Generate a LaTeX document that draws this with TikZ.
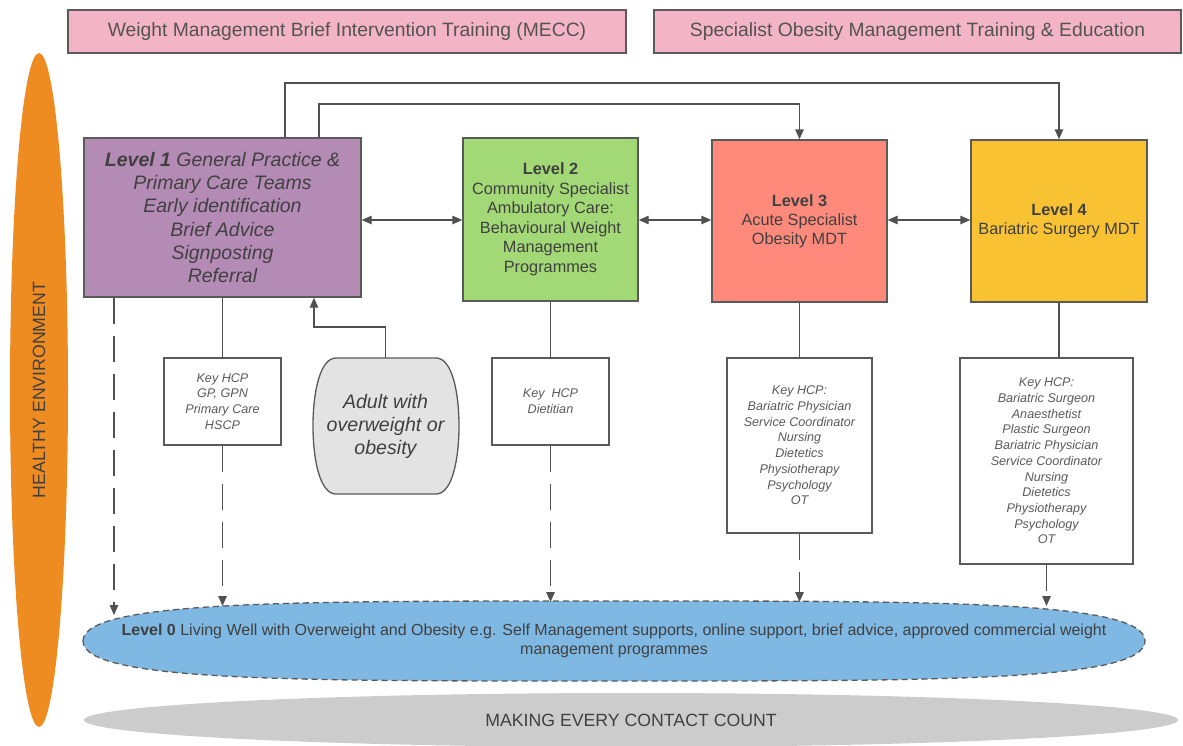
\documentclass[tikz,border=0pt]{standalone}
\usepackage{fontspec}
\setmainfont{Liberation Sans}
\usetikzlibrary{arrows.meta,shapes.geometric}
\definecolor{pinkc}{HTML}{F4B4C8}
\definecolor{orangec}{HTML}{EE8C22}
\definecolor{purplec}{HTML}{B48BB5}
\definecolor{greenc}{HTML}{A2D876}
\definecolor{salmonc}{HTML}{FF8A7B}
\definecolor{yellowc}{HTML}{F9C233}
\definecolor{bluec}{HTML}{7FB8E2}
\definecolor{grayc}{HTML}{CCCCCC}
\definecolor{adultc}{HTML}{E3E3E3}
\definecolor{txtc}{HTML}{404040}
\definecolor{keytxt}{HTML}{5A5A5A}
\definecolor{bordc}{HTML}{5A5A5A}
\definecolor{linec}{HTML}{505050}
\begin{document}
\begin{tikzpicture}[x=1pt,y=-1pt,
  head/.style={draw=bordc, fill=pinkc, line width=1.3pt, text=txtc!90, font=\fontsize{19.3}{22}\selectfont},
  lvl/.style={draw=bordc, line width=1.4pt, align=center, text=txtc, inner sep=2pt},
  keybox/.style={draw=bordc, fill=white, line width=1.3pt, align=center, text=keytxt, font=\fontsize{12.6}{15.7}\selectfont\itshape},
  conn/.style={draw=linec, line width=1.4pt},
  arr/.style={conn, -{Triangle[width=8.5pt,length=10pt]}},
  dbl/.style={conn, {Triangle[width=8.5pt,length=10pt]}-{Triangle[width=8.5pt,length=10pt]}},
  dsh/.style={dash pattern=on 26pt off 12pt}
]
\useasboundingbox (0,0) rectangle (1183,745);

% background ellipses
\node[ellipse, fill=orangec, minimum width=58pt, minimum height=674pt, inner sep=0pt] (env) at (39,390) {};
\node[rotate=90, text=txtc, font=\fontsize{17.7}{20}\selectfont] (envt) at (env.center) {HEALTHY ENVIRONMENT};

\node[ellipse, fill=grayc, minimum width=1094pt, minimum height=54pt, inner sep=0pt, text=txtc, font=\fontsize{17.7}{20}\selectfont] (mecc) at (631,720) {MAKING EVERY CONTACT COUNT};

% blue level 0 shape
\path[fill=bluec, draw=bordc, line width=1.3pt, dash pattern=on 6pt off 4pt]
  (83,641) .. controls (83,600) and (300,601) .. (614,601)
  .. controls (928,601) and (1145,600) .. (1145,641)
  .. controls (1145,682) and (928,681) .. (614,681)
  .. controls (300,681) and (83,682) .. (83,641) -- cycle;
\node[align=center, text=txtc, font=\fontsize{16}{18.5}\selectfont] (lvl0) at (614,641)
  {\textbf{Level 0} Living Well with Overweight and Obesity e.g. Self Management supports, online support, brief advice, approved commercial weight\\management programmes};

% headings
\node[head, minimum width=558pt, minimum height=43pt] (h1) at (347,31.5) {Weight Management Brief Intervention Training (MECC)};
\node[head, minimum width=527pt, minimum height=43pt] (h2) at (917.5,31.5) {Specialist Obesity Management Training \& Education};

% level boxes
\node[lvl, fill=purplec, minimum width=277pt, minimum height=159pt, font=\fontsize{19.5}{23.2}\selectfont\itshape] (L1) at (222.5,217.5)
  {\textbf{Level 1} General Practice \&\\Primary Care Teams\\Early identification\\Brief Advice\\Signposting\\Referral};
\node[lvl, fill=greenc, minimum width=175pt, minimum height=163pt, font=\fontsize{16.3}{19.5}\selectfont] (L2) at (550.5,219.5)
  {\textbf{Level 2}\\Community Specialist\\Ambulatory Care:\\Behavioural Weight\\Management\\Programmes};
\node[lvl, fill=salmonc, minimum width=175pt, minimum height=162pt, font=\fontsize{16.3}{19}\selectfont] (L3) at (799.5,221)
  {\textbf{Level 3}\\Acute Specialist\\Obesity MDT};
\node[lvl, fill=yellowc, minimum width=176pt, minimum height=162pt, font=\fontsize{16.3}{19}\selectfont] (L4) at (1059,221)
  {\textbf{Level 4}\\Bariatric Surgery MDT};

% key boxes
\node[keybox, minimum width=117pt, minimum height=87pt] (K1) at (222.5,401.5) {Key HCP\\GP, GPN\\Primary Care\\HSCP};
\node[keybox, minimum width=117pt, minimum height=87pt] (K2) at (550.5,401.5) {Key\ \ HCP\\Dietitian};
\node[keybox, minimum width=145pt, minimum height=175pt] (K3) at (799.5,445.5)
  {Key HCP:\\Bariatric Physician\\Service Coordinator\\Nursing\\Dietetics\\Physiotherapy\\Psychology\\OT};
\node[keybox, minimum width=173pt, minimum height=206pt] (K4) at (1046.5,461)
  {Key HCP:\\Bariatric Surgeon\\Anaesthetist\\Plastic Surgeon\\Bariatric Physician\\Service Coordinator\\Nursing\\Dietetics\\Physiotherapy\\Psychology\\OT};

% adult node
\path[fill=adultc, draw=bordc, line width=1.3pt]
  (336,358) -- (436,358) .. controls (452,358) and (459,392) .. (459,426)
  .. controls (459,460) and (452,494) .. (436,494)
  -- (336,494) .. controls (320,494) and (313,460) .. (313,426)
  .. controls (313,392) and (320,358) .. (336,358) -- cycle;
\node[minimum width=145pt, minimum height=136pt, inner sep=0pt, align=center, text=txtc, font=\fontsize{19.6}{23}\selectfont\itshape] (adult) at (385.5,426) {Adult with\\overweight or\\obesity};

% horizontal double arrows
\coordinate (hy) at (0,220);
\draw[dbl] (L1.east |- hy) -- (L2.west |- hy);
\draw[dbl] (L2.east |- hy) -- (L3.west |- hy);
\draw[dbl] (L3.east |- hy) -- (L4.west |- hy);

% top connectors
\coordinate (t1) at (285,83);
\coordinate (t2) at (319,104);
\draw[arr] (L1.north -| t1) -- (t1) -| (L4.north);
\draw[arr] (L1.north -| t2) -- (t2) -| (L3.north);

% level to key boxes
\draw[conn] (L1.south) -- (K1.north);
\draw[conn] (L2.south) -- (K2.north);
\draw[conn] (L3.south) -- (K3.north);
\draw[conn] (L4.south) -- (L4.south |- K4.north);

% adult to level 1
\coordinate (a1) at (314,327);
\draw[arr] (adult.north |- 0,358) |- (a1) -- (a1 |- L1.south);

% dashed arrows to level 0
\coordinate (b0) at (114,615);
\coordinate (b1) at (222.5,606);
\coordinate (b2) at (550.5,602);
\coordinate (b3) at (799.5,602);
\coordinate (b4) at (1046.5,606);
\draw[arr, dsh] (L1.south -| b0) -- (b0);
\draw[arr, dsh] (K1.south) -- (b1);
\draw[arr, dsh] (K2.south) -- (b2);
\draw[arr, dsh] (K3.south) -- (b3);
\draw[arr, dsh] (K4.south) -- (b4);
\end{tikzpicture}
\end{document}
